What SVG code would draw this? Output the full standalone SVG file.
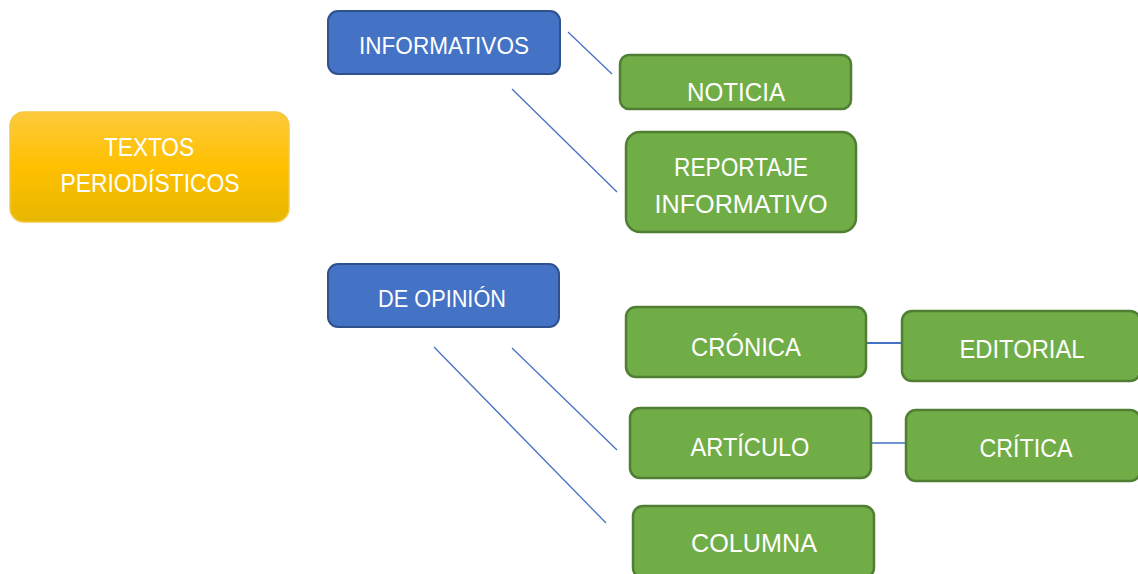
<svg xmlns="http://www.w3.org/2000/svg" width="1138" height="574" viewBox="0 0 1138 574">
<style>
  .blue { fill: #4472c4; stroke: #2f528f; stroke-width: 2; }
  .green { fill: #70ad47; stroke: #507e32; stroke-width: 2.5; }
  .gold { fill: url(#goldGrad); stroke: #f5c842; stroke-width: 1.5; }
  .lbl { fill: #ffffff; font-family: "Liberation Sans", Arial, sans-serif; text-anchor: middle; }
  .bl { font-size: 24px; }
  .gr { font-size: 26px; }
  .gd { font-size: 25px; }
  .conn { stroke: #4472c4; stroke-width: 1.3; fill: none; }
  .conn2 { stroke: #4472c4; stroke-width: 2; fill: none; }
</style>
<defs>
  <linearGradient id="goldGrad" x1="0" y1="0" x2="0" y2="1">
    <stop offset="0" stop-color="#fcca3c"/>
    <stop offset="0.5" stop-color="#ffc000"/>
    <stop offset="1" stop-color="#e6b700"/>
  </linearGradient>
</defs>
<rect width="1138" height="574" fill="#ffffff"/>

<g id="connectors">
  <line class="conn" x1="568" y1="32" x2="612" y2="74"/>
  <line class="conn" x1="512" y1="89" x2="617" y2="192"/>
  <line class="conn" x1="512" y1="348" x2="617" y2="450"/>
  <line class="conn" x1="434" y1="347" x2="606" y2="523"/>
  <line class="conn2" x1="866" y1="343" x2="902" y2="343"/>
  <line class="conn" x1="871" y1="443" x2="906" y2="443"/>
</g>

<g id="node-textos">
  <rect class="gold" x="10" y="112" width="279" height="110" rx="14"/>
  <text class="lbl gd" x="149" y="156" textLength="90" lengthAdjust="spacingAndGlyphs">TEXTOS</text>
  <text class="lbl gd" x="150" y="192" textLength="179" lengthAdjust="spacingAndGlyphs">PERIODÍSTICOS</text>
</g>

<g id="node-informativos">
  <rect class="blue" x="328" y="11" width="232" height="63" rx="10"/>
  <text class="lbl bl" x="444" y="54" textLength="170" lengthAdjust="spacingAndGlyphs">INFORMATIVOS</text>
</g>

<g id="node-noticia">
  <rect class="green" x="620" y="55" width="231" height="54" rx="9"/>
  <text class="lbl gr" x="736" y="101" textLength="98" lengthAdjust="spacingAndGlyphs">NOTICIA</text>
</g>

<g id="node-reportaje">
  <rect class="green" x="626" y="132" width="230" height="100" rx="14"/>
  <text class="lbl gr" x="741" y="176" textLength="134" lengthAdjust="spacingAndGlyphs">REPORTAJE</text>
  <text class="lbl gr" x="741" y="213" textLength="173" lengthAdjust="spacingAndGlyphs">INFORMATIVO</text>
</g>

<g id="node-opinion">
  <rect class="blue" x="328" y="264" width="231" height="63" rx="10"/>
  <text class="lbl bl" x="442" y="307" textLength="128" lengthAdjust="spacingAndGlyphs">DE OPINIÓN</text>
</g>

<g id="node-cronica">
  <rect class="green" x="626" y="307" width="240" height="70" rx="10"/>
  <text class="lbl gr" x="746" y="356" textLength="110" lengthAdjust="spacingAndGlyphs">CRÓNICA</text>
</g>

<g id="node-editorial">
  <rect class="green" x="902" y="311" width="238" height="70" rx="10"/>
  <text class="lbl gr" x="1022" y="358" textLength="125" lengthAdjust="spacingAndGlyphs">EDITORIAL</text>
</g>

<g id="node-articulo">
  <rect class="green" x="630" y="408" width="241" height="70" rx="10"/>
  <text class="lbl gr" x="750" y="456" textLength="119" lengthAdjust="spacingAndGlyphs">ARTÍCULO</text>
</g>

<g id="node-critica">
  <rect class="green" x="906" y="410" width="234" height="71" rx="10"/>
  <text class="lbl gr" x="1026" y="457" textLength="93" lengthAdjust="spacingAndGlyphs">CRÍTICA</text>
</g>

<g id="node-columna">
  <rect class="green" x="633" y="506" width="241" height="72" rx="10"/>
  <text class="lbl gr" x="754" y="552" textLength="126" lengthAdjust="spacingAndGlyphs">COLUMNA</text>
</g>
</svg>
